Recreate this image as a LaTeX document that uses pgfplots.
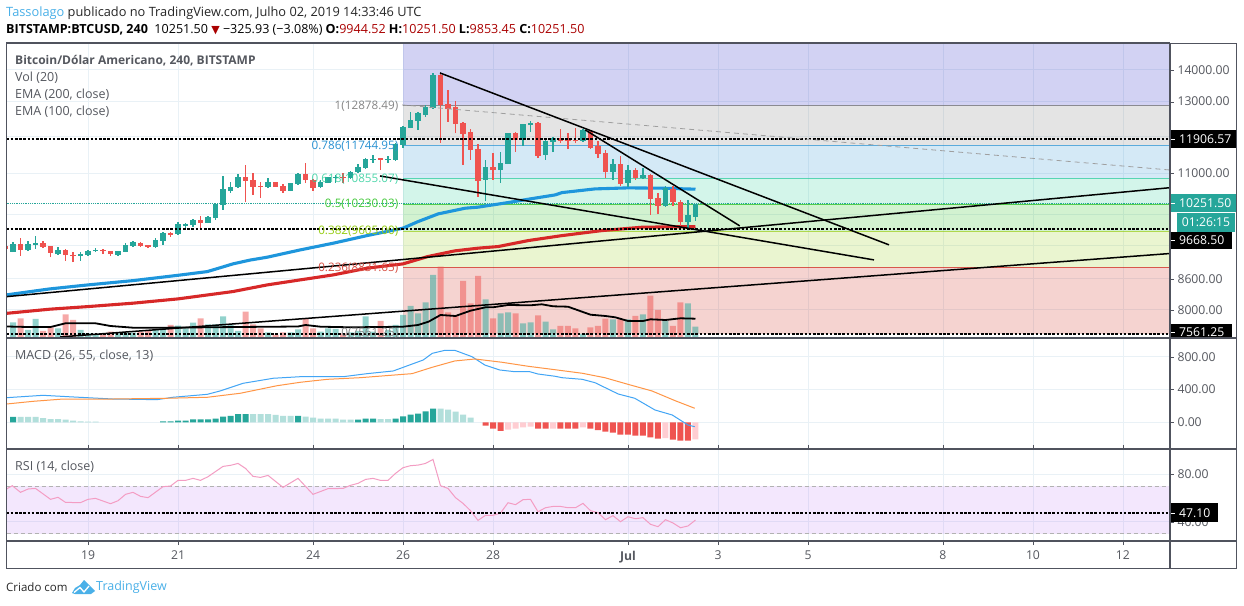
\documentclass[border=0pt]{standalone}
\usepackage{fontspec}
\setmainfont{Open Sans}
\newfontfamily\symfont{DejaVu Sans}
\usepackage{pgfplots}
\usepackage{pgfplotstable}
\pgfplotsset{compat=1.18}

\definecolor{upc}{RGB}{38,166,154}
\definecolor{dnc}{RGB}{239,83,80}
\definecolor{upl}{RGB}{178,223,219}
\definecolor{dnl}{RGB}{255,205,210}
\definecolor{gridc}{RGB}{233,241,246}
\definecolor{framec}{RGB}{80,83,94}
\definecolor{labc}{RGB}{85,88,95}
\definecolor{fibtop}{RGB}{30,30,195}
\definecolor{fibgray}{RGB}{120,120,120}
\definecolor{fibblue}{RGB}{40,145,210}
\definecolor{fibteal}{RGB}{35,205,150}
\definecolor{fibgreen}{RGB}{30,190,20}
\definecolor{fibyel}{RGB}{150,205,20}
\definecolor{fibred}{RGB}{205,35,20}
\definecolor{tvblue}{RGB}{74,176,232}
\definecolor{emablue}{RGB}{30,150,220}
\definecolor{emared}{RGB}{215,40,40}
\definecolor{macdb}{RGB}{66,165,245}
\definecolor{macdo}{RGB}{255,150,70}
\definecolor{rsic}{RGB}{243,157,195}
\definecolor{rsiband}{RGB}{160,60,240}
\definecolor{hdred}{RGB}{170,0,0}

% candles, x = 4h bar number counted from Jun 26 00:00
\pgfplotstableread{
k o h l c
-52 9165 9368 9152 9325
-50 9195 9396 9173 9325
-49 9310 9507 9223 9346
-46 9110 9273 9095 9195
-43 9080 9165 8968 9110
-42 9095 9195 9074 9173
-41 9173 9238 9152 9195
-38 9089 9180 9080 9173
-37 9165 9346 9152 9303
-36 9288 9396 9260 9375
-33 9260 9456 9244 9411
-32 9396 9589 9310 9567
-30 9551 9815 9529 9769
-29 9731 9792 9670 9769
-28 9747 9883 9701 9860
-26 9806 9960 9792 9930
-25 9914 10259 9867 10236
-24 10226 10932 10100 10600
-23 10550 10790 10516 10665
-22 10657 10985 10632 10908
-18 10650 10891 10625 10775
-15 10565 10765 10550 10750
-14 10725 11018 10707 10977
-11 10657 10825 10625 10775
-10 10765 10916 10750 10900
-9 10883 10967 10765 10916
-7 10883 11069 10865 11044
-6 11036 11244 11018 11158
-5 11139 11395 11121 11368
-4 11349 11474 11278 11384
-2 11341 11456 11263 11376
-1 11349 11800 11331 11772
0 11753 12277 11679 12257
1 12237 12684 12220 12458
2 12429 12684 12163 12655
3 12605 12902 12555 12833
4 12803 13893 12782 13838
11 10832 11349 10314 11158
13 11079 11554 10765 11263
14 11244 12095 11236 12078
16 11890 12335 11734 12335
17 12306 12438 12123 12372
19 11483 11890 11349 11863
20 11843 11983 11555 11938
24 11863 12191 11843 12163
28 11036 11376 10832 11244
30 10750 11218 10665 11087
32 10875 11131 10850 10952
35 10188 10682 10179 10625
38 9815 10338 9679 9983
39 9944.52 10251.50 9853.45 10251.50
}\upcandles
\pgfplotstableread{
k o h l c
-53 9280 9360 9150 9220
-51 9325 9456 9074 9201
-48 9346 9403 9238 9260
-47 9281 9288 9046 9137
-45 9195 9223 8968 9089
-44 9095 9165 8941 9067
-40 9201 9223 9110 9173
-39 9173 9173 9074 9110
-35 9346 9375 9266 9288
-34 9303 9310 9238 9266
-31 9567 9602 9485 9536
-27 9860 9960 9692 9806
-21 10900 11218 10290 10815
-20 10825 11010 10467 10657
-19 10675 10790 10379 10650
-17 10775 10782 10657 10665
-16 10675 10740 10509 10558
-13 10985 11270 10750 10825
-12 10840 10850 10565 10625
-8 10916 11018 10750 10883
-3 11395 11410 11087 11357
5 13838 13860 11808 12902
6 12923 13360 12409 12773
7 12833 13022 12078 12343
8 12380 12392 11218 12059
9 12115 12191 11349 11616
10 11643 11772 10419 10815
12 11158 11527 10832 11079
15 12078 12106 11571 11890
18 12372 12392 11395 11456
21 11938 12200 11800 11863
22 11898 12078 11635 11854
23 11898 12237 11800 11854
25 12151 12171 11643 11679
26 11726 11863 11395 11509
27 11536 11624 10875 11028
29 11236 11456 10682 10732
31 11087 11131 10832 10883
33 10960 10977 9983 10362
34 10379 10501 10000 10195
36 10607 10690 10202 10283
37 10297 10338 9738 9828
}\downcandles

\pgfplotsset{
  tvaxis/.style={
    scale only axis, width=1163.5pt,
    xmin=-52.87, xmax=102.27,
    axis line style={framec, line width=1pt},
    tick align=outside, major tick length=4pt,
    ytick pos=right, yticklabel pos=right,
    xtick={-42,-30,-12,0,12,30,42,54,72,84,96},
    grid=both, major grid style={gridc, line width=0.9pt},
    tick label style={font=\fontsize{12.2}{14}\selectfont, text=labc},
    y tick style={framec},
    clip=true},
  wick/.style={mark=none, draw=none, forget plot,
    error bars/.cd, y dir=plus, y explicit, error mark=none,
    error bar style={draw=#1, line width=1.1pt}},
  body/.style={mark=none, draw=none, forget plot,
    error bars/.cd, y dir=plus, y explicit, error mark=none,
    error bar style={draw=#1, line width=5.6pt}},
  vbar/.style={ybar, bar width=6pt, bar shift=0pt, draw=none, fill=#1, forget plot}
}

\begin{document}
\begin{tikzpicture}
\useasboundingbox (0,0) rectangle (1244pt,605pt);
\fill[white] (0,0) rectangle (1244pt,605pt);

% price panel: grid, fib bands
\begin{axis}[tvaxis, at={(6.5pt,267pt)}, anchor=south west, height=295pt,
    ymode=log, ymin=7494.6, ymax=14907,
    xticklabels={}, xtick style={draw=none},
    ytick={8000,8600,11000,13000,14000},
    yticklabels={8000.00,8600.00,11000.00,13000.00,14000.00},
    yminorticks=false, yminorgrids=false,
    extra y ticks={9300,10000,12000}, extra y tick labels={},
    extra y tick style={y tick style={draw=none}, grid=major}]
  \addplot[fill=fibtop, fill opacity=.2, draw=none, forget plot] coordinates {(0,12878.49) (102.27,12878.49) (102.27,14907) (0,14907)} -- cycle;
  \addplot[fill=fibgray, fill opacity=.2, draw=none, forget plot] coordinates {(0,11744.95) (102.27,11744.95) (102.27,12878.49) (0,12878.49)} -- cycle;
  \addplot[fill=fibblue, fill opacity=.2, draw=none, forget plot] coordinates {(0,10855.07) (102.27,10855.07) (102.27,11744.95) (0,11744.95)} -- cycle;
  \addplot[fill=fibteal, fill opacity=.2, draw=none, forget plot] coordinates {(0,10230.03) (102.27,10230.03) (102.27,10855.07) (0,10855.07)} -- cycle;
  \addplot[fill=fibgreen, fill opacity=.2, draw=none, forget plot] coordinates {(0,9605) (102.27,9605) (102.27,10230.03) (0,10230.03)} -- cycle;
  \addplot[fill=fibyel, fill opacity=.2, draw=none, forget plot] coordinates {(0,8831.65) (102.27,8831.65) (102.27,9605) (0,9605)} -- cycle;
  \addplot[fill=fibred, fill opacity=.2, draw=none, forget plot] coordinates {(0,7561.25) (102.27,7561.25) (102.27,8831.65) (0,8831.65)} -- cycle;
  \addplot[fibgray, line width=1pt, opacity=.8] coordinates {(0,12878.49) (102.27,12878.49)};
  \addplot[fibblue, line width=1pt, opacity=.7] coordinates {(0,11744.95) (102.27,11744.95)};
  \addplot[fibteal, line width=1pt, opacity=.7] coordinates {(0,10855.07) (102.27,10855.07)};
  \addplot[fibgreen, line width=1pt, opacity=.7] coordinates {(0,10230.03) (102.27,10230.03)};
  \addplot[fibyel, line width=1pt, opacity=.7] coordinates {(0,9605) (102.27,9605)};
  \addplot[fibred, line width=1pt, opacity=.7] coordinates {(0,8831.65) (102.27,8831.65)};
\end{axis}

% volume, on its own scale at the foot of the price panel
\begin{axis}[scale only axis, width=1163.5pt, height=295pt, at={(6.5pt,267pt)}, anchor=south west,
    xmin=-52.87, xmax=102.27, ymin=0, ymax=295, hide axis]
  \addplot[vbar=upc, opacity=.5] coordinates {
    (-52,15.7) (-50,8) (-49,19) (-46,9.7) (-43,8) (-42,4.7) (-41,3) (-38,4.7) (-37,5.3) (-36,5.3)
    (-33,8) (-32,9.7) (-30,12.3) (-29,9.7) (-28,15.3) (-26,13.7) (-25,13.7) (-24,21.7) (-23,13)
    (-22,7) (-18,5.7) (-15,5.7) (-14,8.7) (-11,6.3) (-10,9.7) (-9,9) (-7,5.7) (-6,7) (-5,21.7)
    (-4,6.3) (-2,8) (-1,13) (0,23) (1,32) (2,24.7) (3,35.7) (4,63) (11,38.7) (13,24.7) (14,25.7)
    (16,14.7) (17,15.7) (19,16.3) (20,8.7) (24,4) (28,18.7) (30,18.7) (32,23.7) (35,17) (38,34.7) (39,11.3)};
  \addplot[vbar=dnc, opacity=.5] coordinates {
    (-51,19.7) (-48,7) (-47,10.7) (-45,23.7) (-44,18) (-40,3.7) (-39,6.3) (-35,6.3) (-34,7) (-31,13)
    (-27,19.7) (-21,26.3) (-20,13.7) (-19,9.7) (-17,3) (-16,5.7) (-13,19) (-12,9.7) (-8,4.5) (-3,17)
    (5,71.3) (6,25.7) (7,22.3) (8,57) (9,34.7) (10,62) (12,19.7) (15,24.7) (18,22.7) (21,12) (22,12)
    (23,9.7) (25,10.7) (26,12) (27,19.3) (29,18.7) (31,22) (33,42.3) (34,28) (36,12) (37,35.7)};
  % Vol (20) average
  \addplot[black, line width=1.8pt] coordinates {
    (-52.87,11.5) (-50,11) (-47,11) (-45,14.7) (-41,14.7) (-39,12) (-36,10.3) (-32,10.3) (-26,10.7)
    (-22,11) (-17,11.3) (-14,11.5) (-13,13) (-11,11.3) (-7,10.7) (-3,11) (0,11.3) (2,13) (3.4,16.3)
    (5,23) (7,22) (9,27.3) (11,30.7) (12,30.7) (14,33) (17,32.7) (18.5,33.7) (20,31.7) (22,31.3)
    (25,23.3) (27,22) (28.3,20.7) (30,17) (32,17) (33,18.7) (35,18) (37,19.7) (39,19.3)};
\end{axis}

% price panel: candles and drawings
\begin{axis}[scale only axis, width=1163.5pt, height=295pt, at={(6.5pt,267pt)}, anchor=south west,
    xmin=-52.87, xmax=102.27, ymode=log, ymin=7494.6, ymax=14907, hide axis]
  % last price
  \addplot[upc, line width=.8pt, densely dotted] coordinates {(-52.87,10251.5) (102.27,10251.5)};
  % EMA 200
  \addplot[emablue, line width=3.1pt, line join=round] coordinates {
    (-52.87,8285) (-47.1,8401) (-42,8480) (-36,8565) (-30,8672) (-26.1,8747) (-24.4,8825) (-22.7,8905) (-20.4,8985) (-18.1,9046)
    (-13.7,9201) (-9.3,9346) (-4.8,9513) (0,9679) (2,9828) (4.7,10007) (8.3,10140) (10,10165) (14,10274)
    (16.7,10355) (20.3,10460) (21.2,10516) (25.6,10607) (30,10632) (34.5,10625) (39,10600)};
  % EMA 100
  \addplot[emared, line width=3.1pt, line join=round] coordinates {
    (-52.87,7937) (-47.1,8013) (-42,8062) (-36,8126) (-30,8208) (-22.7,8349) (-18.1,8480) (-13.7,8580)
    (-9.3,8680) (-4.8,8817) (0,8906) (3.3,9059) (6.9,9180) (10,9238) (12.7,9273) (16.7,9403) (21.2,9513)
    (26.5,9624) (31.9,9701) (39,9715)};
  % candles
  \addplot[wick=upc] table[x=k, y=l, y error plus expr=\thisrow{h}-\thisrow{l}] {\upcandles};
  \addplot[wick=dnc] table[x=k, y=l, y error plus expr=\thisrow{h}-\thisrow{l}] {\downcandles};
  \addplot[body=upc] table[x=k, y=o, y error plus expr=\thisrow{c}-\thisrow{o}] {\upcandles};
  \addplot[body=dnc] table[x=k, y=c, y error plus expr=\thisrow{o}-\thisrow{c}] {\downcandles};
  % dashed levels
  \addplot[black, line width=1.8pt, dash pattern=on 2.6pt off 1.6pt] coordinates {(-52.87,11906.57) (102.27,11906.57)};
  \addplot[black, line width=1.8pt, dash pattern=on 2.6pt off 1.6pt] coordinates {(-52.87,9668.5) (102.27,9668.5)};
  \addplot[black, line width=1.8pt, dash pattern=on 2.6pt off 1.6pt] coordinates {(-52.87,7561.25) (102.27,7561.25)};
  % trend lines
  \addplot[gray!75, line width=.8pt, dash pattern=on 5pt off 4pt] coordinates {(-0.13,12902) (102.13,11087)};
  \addplot[black, line width=1.5pt] coordinates {(4.93,13900) (64.8,9310)};
  \addplot[black, line width=1.5pt] coordinates {(24.3,12171) (44.9,9731)};
  \addplot[black, line width=1.5pt] coordinates {(-3.07,10932) (62.8,8989)};
  \addplot[black, line width=1.5pt] coordinates {(-52.87,8251) (102.27,10637)};
  \addplot[black, line width=1.5pt] coordinates {(-45.7,7512) (102.27,9124)};
\end{axis}

% MACD
\begin{axis}[tvaxis, at={(6.5pt,156pt)}, anchor=south west, height=111pt,
    ymin=-325.6, ymax=1028, xticklabels={}, xtick style={draw=none},
    ytick={0,400,800}, yticklabels={0.00,400.00,800.00}]
  \addplot[vbar=upc] coordinates {
    (-52,65) (-32,12) (-31,12) (-30,21) (-29,21) (-28,37) (-27,37) (-26,37) (-25,45) (-24,70) (-23,77)
    (-22,101) (-21,101) (-14,77) (-6,33) (-5,45) (-4,45) (-1,45) (0,73) (1,94) (2,106) (3,134) (4,167)};
  \addplot[vbar=upl] coordinates {
    (-51,65) (-50,65) (-49,65) (-48,52) (-47,40) (-46,40) (-45,33) (-44,21) (-43,12) (-42,9) (-41,9)
    (-20,101) (-19,101) (-18,101) (-17,89) (-16,77) (-15,77) (-13,70) (-12,57) (-11,45) (-10,45) (-9,45)
    (-8,33) (-7,33) (-3,40) (-2,40) (5,167) (6,155) (7,131) (8,94) (9,57)};
  \addplot[vbar=dnc] coordinates {
    (11,-40) (12,-77) (13,-106) (18,-77) (19,-77) (21,-77) (22,-77) (23,-77) (25,-77) (26,-94) (27,-113)
    (28,-126) (29,-150) (30,-150) (31,-162) (32,-162) (33,-183) (34,-199) (36,-211) (37,-223) (38,-223)};
  \addplot[vbar=dnl] coordinates {
    (14,-89) (15,-77) (16,-61) (17,-52) (20,-77) (24,-61) (35,-192) (39,-207)};
  \addplot[macdb, line width=1pt] coordinates {
    (-52.87,300) (-48,329) (-44,309) (-38.7,284) (-32.8,276) (-30.7,305) (-26.1,341) (-24.4,382) (-21.3,476)
    (-17.3,537) (-13.7,556) (-8,556) (-4.8,593) (-1.3,626) (2.7,760) (3.9,841) (5.6,878) (6.9,878) (9.2,800)
    (10.9,699) (12.9,638) (14.9,617) (16.9,617) (18,589) (20.3,561) (21.2,544) (23.9,524) (25.6,483)
    (28.7,345) (30.9,293) (33.6,150) (35.9,89) (38,-33) (38.9,-54)};
  \addplot[macdo, line width=1pt] coordinates {
    (-52.87,223) (-49.3,256) (-45.3,284) (-38.7,284) (-31.5,293) (-26.1,305) (-21.7,354) (-16.8,446)
    (-13.7,488) (-10.1,524) (-5.7,544) (-1.1,577) (1.2,593) (3.9,671) (6.9,748) (9.6,772) (13.2,732)
    (16.7,683) (20.3,641) (23.9,598) (26.9,544) (30,463) (33.2,382) (36.3,263) (38.9,171)};
\end{axis}

% RSI
\begin{axis}[tvaxis, at={(6.5pt,64pt)}, anchor=south west, height=92pt,
    ymin=23.7, ymax=101.4, ytick={40,80}, yticklabels={40.00,80.00},
    xticklabels={19,21,24,26,28,\textbf{Jul},3,5,8,10,12}, x tick style={framec},
    xticklabel style={yshift=-2.5pt}]
  \addplot[fill=rsiband, fill opacity=.12, draw=none, forget plot] coordinates {(-52.87,30) (102.1,30) (102.1,70) (-52.87,70)} -- cycle;
  \addplot[gray!60, line width=.8pt, dash pattern=on 4pt off 3pt] coordinates {(-52.87,70) (102.1,70)};
  \addplot[gray!60, line width=.8pt, dash pattern=on 4pt off 3pt] coordinates {(-52.87,30) (102.1,30)};
  \addplot[rsic, line width=1pt] coordinates {
    (-52.87,67.6) (-52.1,70.4) (-51,64.8) (-50,67.6) (-49,68.1) (-47,58.9) (-46,60.6) (-45,56.3) (-43,56.1)
    (-42,58.9) (-41,59.7) (-39,55.2) (-38,57.7) (-37,63.1) (-36,64.8) (-35,61.4) (-34,60.3) (-32,69.6)
    (-31,70.1) (-30,74.9) (-29,74.9) (-28,76.6) (-27,74.9) (-26,78) (-24,86.7) (-23,87.6) (-22,89.2)
    (-21,85) (-20,78.3) (-19,77.4) (-18,79.1) (-16,69) (-14,76.6) (-12,63.1) (-10,67.9) (-8,68.1) (-7,70.7)
    (-6,72.4) (-5,75.7) (-4,76.6) (-3,74.9) (-2,74.9) (-1,80.8) (0,85.6) (1,87.3) (2,87.8) (3,89.2) (4,92.6)
    (5,70.4) (6,68.1) (7,60.3) (8,55.5) (9,49.3) (10,41.1) (11,45.4) (12,45.4) (13,47.3) (14,56) (15,54.4)
    (16,58.6) (17,58.9) (18,48.4) (19,51.8) (20,52.9) (21,52.9) (22,51.8) (23,51.8) (24,55.5) (25,49.3)
    (26,47.6) (27,41.7) (28,45.1) (29,40) (30,44.2) (31,42.5) (32,43.4) (33,37.8) (34,35.8) (35,41.7)
    (36,38.9) (37,34.9) (38,36.4) (39,41.4)};
  \addplot[black, line width=1.8pt, dash pattern=on 2.6pt off 1.6pt] coordinates {(-52.87,47.1) (102.27,47.1)};
\end{axis}

% frame
\draw[framec, line width=1.1pt] (6.5pt,36.5pt) rectangle (1236.5pt,561.5pt);
\draw[framec, line width=1.1pt] (1170pt,36.5pt) -- (1170pt,561.5pt);
\draw[framec, line width=1.1pt] (6.5pt,267pt) -- (1236.5pt,267pt);
\draw[framec, line width=1.1pt] (6.5pt,156pt) -- (1236.5pt,156pt);
\draw[framec, line width=1.1pt] (6.5pt,64pt) -- (1236.5pt,64pt);

% fib labels
\begin{scope}[every node/.style={anchor=east, inner sep=0pt, font=\fontsize{11.7}{14}\selectfont}]
\node[text=fibgray!90] at (398.5pt,498.5pt) {1(12878.49)};
\node[text=fibblue] at (398.5pt,458.5pt) {0.786(11744.95)};
\node[text=fibteal, opacity=.8] at (398.5pt,425.5pt) {0.618(10855.07)};
\node[text=fibgreen!85] at (398.5pt,400.5pt) {0.5(10230.03)};
\node[text=fibyel] at (398.5pt,373.5pt) {0.382(9605.00)};
\node[text=fibred!80] at (398.5pt,336.5pt) {0.236(8831.65)};
\node[text=fibgray!90] at (398.5pt,271.5pt) {0(7561.25)};
\end{scope}

% panel titles
\begin{scope}[every node/.style={anchor=west, inner sep=0pt, text=labc, font=\fontsize{12.5}{14}\selectfont}]
\node[font=\fontsize{12}{14}\selectfont] at (15pt,544pt) {\textbf{Bitcoin/Dólar Americano, 240, BITSTAMP}};
\node at (15pt,527.5pt) {Vol (20)};
\node at (15pt,510.5pt) {EMA (200, close)};
\node at (15pt,493.5pt) {EMA (100, close)};
\node at (15pt,249.5pt) {MACD (26, 55, close, 13)};
\node at (15pt,138.5pt) {RSI (14, close)};
\end{scope}

% price tags
\newcommand{\tick}{\rule[3.5pt]{4pt}{1pt}\hspace{4pt}}
\begin{scope}[every node/.style={anchor=south west, inner sep=0pt, text=white, align=left, font=\fontsize{12.2}{14}\selectfont}]
\fill[black] (1170.5pt,456.7pt) rectangle (1236pt,475pt);
\node[anchor=west] at (1171pt,465.5pt) {\tick 11906.57};
\fill[upc] (1170.5pt,393pt) rectangle (1236pt,411pt);
\node[anchor=west] at (1171pt,402pt) {\tick 10251.50};
\fill[upc] (1177pt,373.3pt) rectangle (1235pt,392.3pt);
\node[anchor=center] at (1206pt,382.8pt) {01:26:15};
\fill[black] (1170.5pt,356pt) rectangle (1231.5pt,373.3pt);
\node[anchor=west] at (1171pt,365pt) {\tick 9668.50};
\fill[black] (1170.5pt,267.5pt) rectangle (1231.5pt,281pt);
\node[anchor=west] at (1171pt,272.5pt) {\tick 7561.25};
\fill[black] (1170.5pt,83.3pt) rectangle (1217.7pt,101.7pt);
\node[anchor=west] at (1171pt,92.3pt) {\tick 47.10};
\end{scope}

% header and footer
\node[anchor=west, inner sep=0pt, font=\fontsize{12.8}{14}\selectfont, text=black!85] at (6pt,592pt)
  {\textcolor{tvblue}{Tassolago} publicado no TradingView.com, Julho 02, 2019 14:33:46 UTC};
\node[anchor=west, inner sep=0pt, font=\fontsize{12.55}{14}\selectfont, text=black] at (6pt,575pt)
  {\textbf{BITSTAMP:BTCUSD, 240}\ \ 10251.50 {\symfont\fontsize{11}{14}\selectfont\textcolor{hdred}{▼}} −325.93 (−3.08\%) \textbf{O:}\textcolor{hdred}{9944.52} \textbf{H:}\textcolor{hdred}{10251.50} \textbf{L:}\textcolor{hdred}{9853.45} \textbf{C:}\textcolor{hdred}{10251.50}};
\node[anchor=west, inner sep=0pt, font=\fontsize{11.5}{14}\selectfont, text=black!85] at (6pt,17.5pt) {Criado com};
\node[anchor=west, inner sep=0pt, font=\fontsize{12.5}{14}\selectfont, text=tvblue] at (96pt,17.5pt) {TradingView};
\fill[tvblue] (72pt,12pt) -- (75pt,17pt) -- (80pt,20pt) -- (84pt,25pt) -- (89pt,20pt) -- (95pt,14pt) -- (91pt,11pt) -- (75pt,11pt) -- cycle;
\draw[white, line width=1.3pt] (74pt,12.5pt) -- (80pt,17.5pt) -- (84pt,13pt) -- (89pt,19pt);
\end{tikzpicture}
\end{document}
